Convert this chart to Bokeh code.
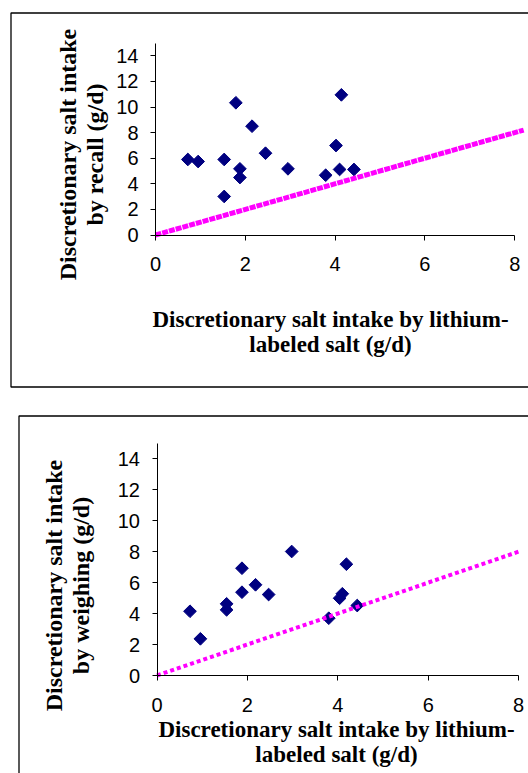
import math
from bokeh.plotting import figure
from bokeh.models import Range1d, LinearAxis, FixedTicker, Label, BoxAnnotation
from bokeh.layouts import column
from bokeh.embed import file_html
from bokeh.resources import INLINE

# ---------------- data ----------------
lithium_recall = [0.72, 0.95, 1.53, 1.53, 1.79, 1.88, 1.88, 2.15, 2.45, 2.95, 3.79, 4.02, 4.10, 4.14, 4.42]
recall = [5.90, 5.74, 5.90, 3.01, 10.33, 5.17, 4.49, 8.50, 6.39, 5.17, 4.67, 6.99, 5.12, 10.95, 5.12]

lithium_weigh = [0.73, 0.96, 1.54, 1.54, 1.88, 1.88, 2.18, 2.47, 2.98, 3.80, 4.04, 4.10, 4.19, 4.43]
weighing = [4.15, 2.37, 4.63, 4.24, 6.93, 5.38, 5.86, 5.23, 8.01, 3.70, 4.99, 5.28, 7.19, 4.52]

identity_top = [0, 8.2]
identity_bottom = [0, 8]

x_ticks = [0, 2, 4, 6, 8]
y_ticks = [0, 2, 4, 6, 8, 10, 12, 14]

x_title = ["Discretionary salt intake by lithium-", "labeled salt (g/d)"]
y_title_top = ["Discretionary salt intake", "by recall (g/d)"]
y_title_bottom = ["Discretionary salt intake", "by weighing (g/d)"]

NAVY = "#000080"
MAGENTA = "#FF00FF"
W = 528
ORIGIN = 0  # page offset of the canvas


def panel(page_top, height, X0, SX, Y0, SY, xs, ys, ident, dash, lw,
          box_left, box_top, box_bottom, ytitle, xt_pos, yt_pos):
    px2x = lambda px: (px - X0) / SX
    py2y = lambda py: (Y0 - py) / SY
    p = figure(width=W, height=height,
               x_range=Range1d(px2x(ORIGIN), px2x(ORIGIN + W)),
               y_range=Range1d(py2y(page_top + height), py2y(page_top)),
               x_axis_type=None, y_axis_type=None,
               output_backend="svg", toolbar_location=None,
               min_border=0, min_border_left=0, min_border_right=0,
               min_border_top=0, min_border_bottom=0,
               outline_line_color=None,
               background_fill_color="white", border_fill_color="white")

    xa = LinearAxis(fixed_location=0, ticker=FixedTicker(ticks=x_ticks), bounds=(0, 8),
                    major_tick_in=0, major_tick_out=5, minor_tick_in=0, minor_tick_out=0,
                    major_label_standoff=17, axis_line_color="black", major_tick_line_color="black",
                    major_label_text_font="Liberation Sans", major_label_text_font_size="20px",
                    major_label_text_color="black")
    ya = LinearAxis(fixed_location=0, ticker=FixedTicker(ticks=y_ticks), bounds=(0, 15),
                    major_tick_in=0, major_tick_out=5, minor_tick_in=0, minor_tick_out=0,
                    major_label_standoff=12, axis_line_color="black", major_tick_line_color="black",
                    major_label_text_font="Liberation Sans", major_label_text_font_size="20px",
                    major_label_text_color="black")
    p.add_layout(xa, "below")
    p.add_layout(ya, "left")

    p.scatter(xs, ys, marker="square", angle=math.pi / 4, size=9,
              fill_color=NAVY, line_color=NAVY)
    p.line(ident, ident, line_color=MAGENTA, line_width=lw, line_dash=dash)

    box_kw = dict(fill_alpha=0, line_color="black", line_alpha=1.0, line_width=1.3,
                  level="annotation")
    p.add_layout(BoxAnnotation(left=px2x(box_left), right=px2x(900),
                               top=py2y(box_top),
                               bottom=py2y(box_bottom) if box_bottom else py2y(2000),
                               **box_kw))

    xfont = dict(text_font="Liberation Serif", text_font_style="bold",
                 text_font_size="23px", text_color="black", text_align="center",
                 text_baseline="alphabetic")
    yfont = dict(xfont, text_font_size="24px")
    (cx, b1, b2) = xt_pos
    p.add_layout(Label(x=px2x(cx), y=py2y(b1), text=x_title[0], **xfont))
    p.add_layout(Label(x=px2x(cx), y=py2y(b2), text=x_title[1], **xfont))
    (cy, a1, a2) = yt_pos
    p.add_layout(Label(x=px2x(a1), y=py2y(cy), text=ytitle[0], angle=math.pi / 2, **yfont))
    p.add_layout(Label(x=px2x(a2), y=py2y(cy), text=ytitle[1], angle=math.pi / 2, **yfont))
    return p


p1 = panel(0, 400, 155.0, 44.9, 234.5, 12.8, lithium_recall, recall, identity_top, "6 1", 5,
           10.5, 12.5, 386.5, y_title_top, (330, 319, 344), (154, 67, 94))
p2 = panel(400, 373, 156.5, 45.2, 675.0, 15.48, lithium_weigh, weighing, identity_bottom, "4 3", 4,
           18.5, 415.5, None, y_title_bottom, (336, 729, 753.5), (585, 53, 80))

layout = column(p1, p2, spacing=0)
open("out.html", "w").write(file_html(layout, INLINE))
